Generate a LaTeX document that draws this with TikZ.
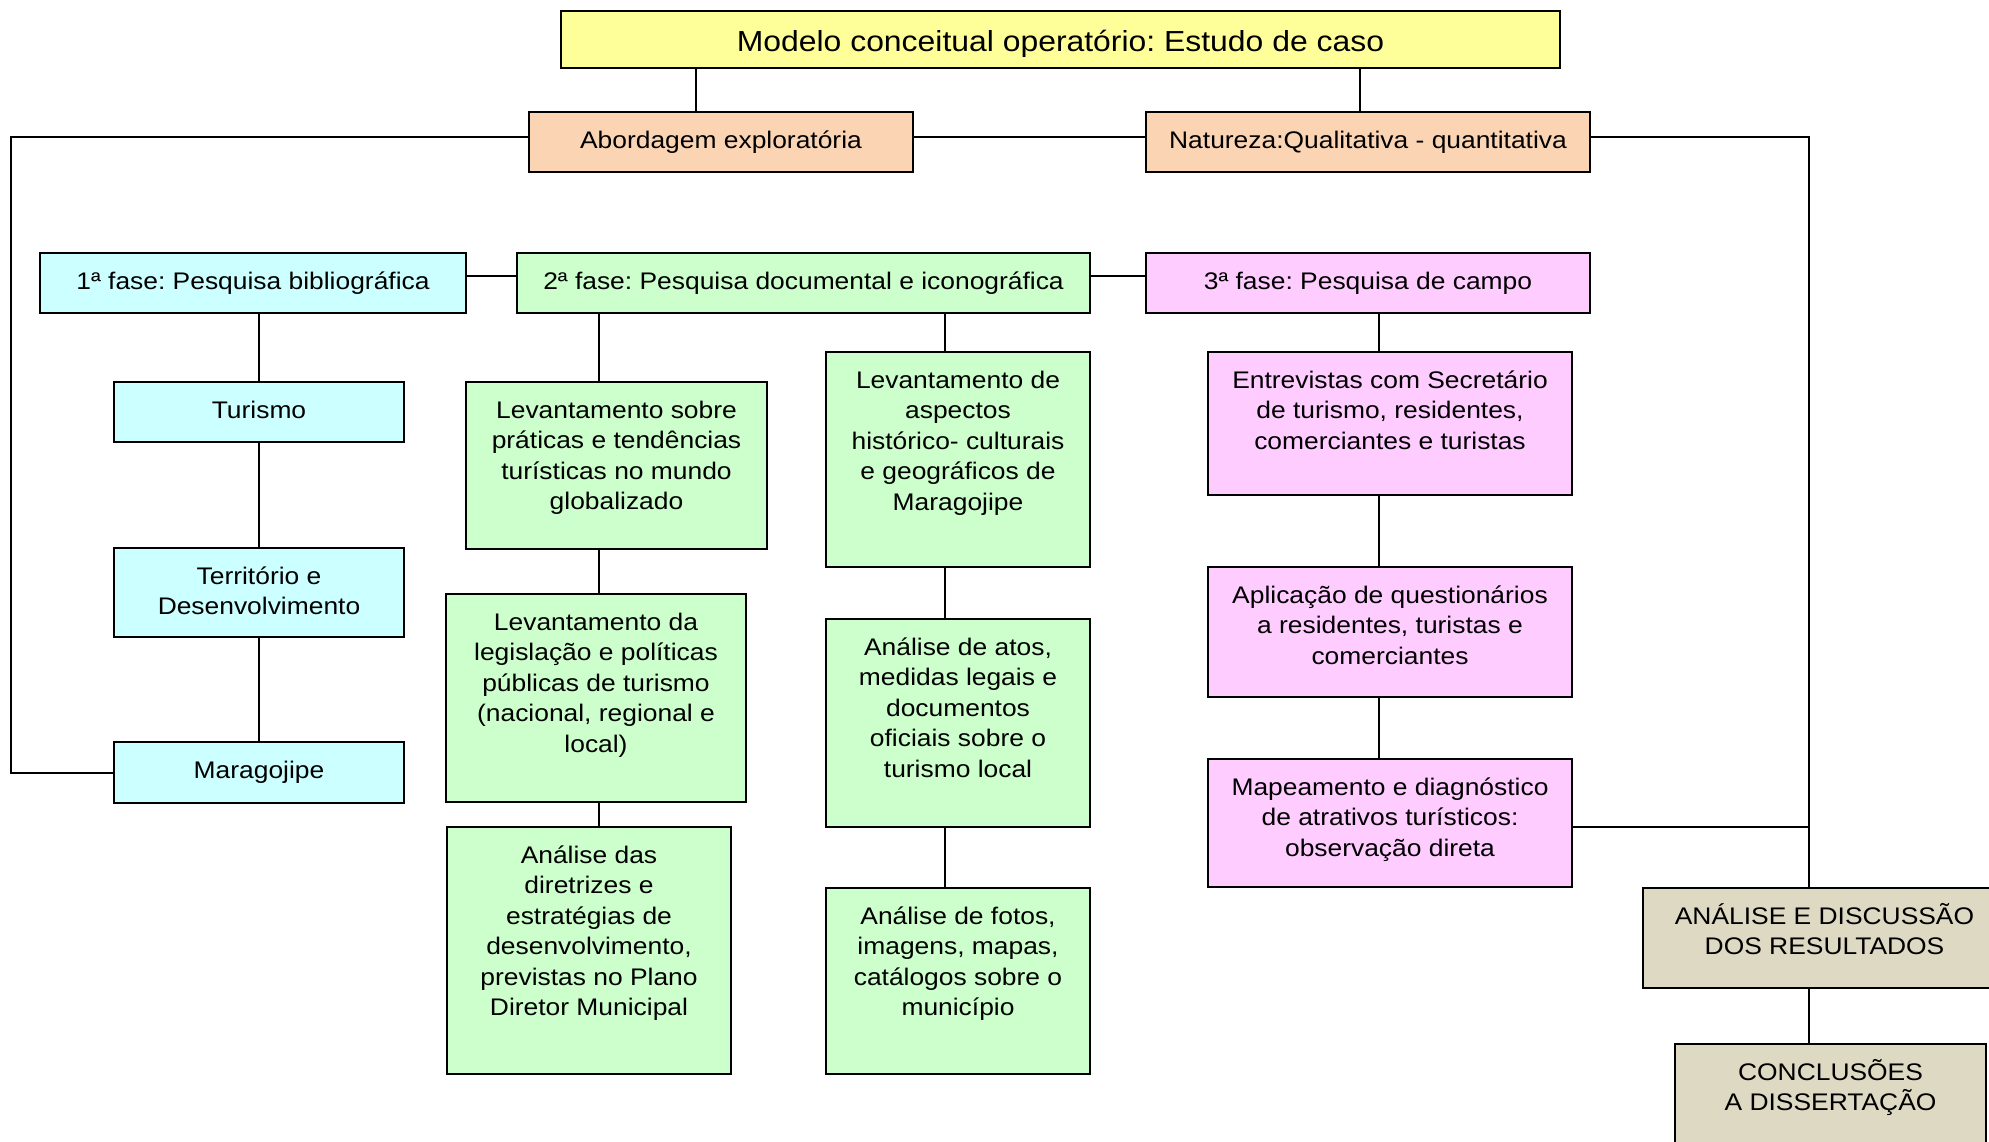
\documentclass[tikz,border=0pt]{standalone}
\usepackage{fontspec}
\setmainfont{Liberation Sans}[FakeStretch=1.1]
\definecolor{cyellow}{HTML}{FFFF99}
\definecolor{cpeach}{HTML}{FBD4B4}
\definecolor{ccyan}{HTML}{CCFFFF}
\definecolor{cgreen}{HTML}{CCFFCC}
\definecolor{cpink}{HTML}{FFCCFF}
\definecolor{cbeige}{HTML}{DDD9C3}
\newcommand\bxt[3]{\parbox[t][#2][t]{#1}{\frenchspacing\centering\rule{0pt}{36pt}#3}}
\begin{document}
\frenchspacing
\begin{tikzpicture}[x=1pt,y=-1pt,
  cell/.style={draw=black, rectangle, inner sep=0pt, outer sep=0pt, anchor=north west, line width=2.3pt,
    font=\fontsize{24}{30.5}\selectfont},
  conn/.style={draw=black, line width=2pt}]
\useasboundingbox (0,0) rectangle (1989,1141);
\clip (0,0) rectangle (1989,1141);

% top level
\node[cell, fill=cyellow, font=\fontsize{29}{34}\selectfont] (title) at (561,11)
  {\parbox[t][57pt][t]{999pt}{\frenchspacing\centering\rule{0pt}{40pt}Modelo conceitual operatório: Estudo de caso}};
\node[cell, fill=cpeach] (abord) at (529,112) {\bxt{384pt}{60pt}{Abordagem exploratória}};
\node[cell, fill=cpeach] (natur) at (1146,112) {\bxt{444pt}{60pt}{Natureza:Qualitativa - quantitativa}};

% phases
\node[cell, fill=ccyan] (f1) at (40,253) {\bxt{426pt}{60pt}{1ª fase: Pesquisa bibliográfica}};
\node[cell, fill=cgreen] (f2) at (517,253) {\bxt{573pt}{60pt}{2ª fase: Pesquisa documental e iconográfica}};
\node[cell, fill=cpink] (f3) at (1146,253) {\bxt{444pt}{60pt}{3ª fase: Pesquisa de campo}};

% column 1
\node[cell, fill=ccyan] (turismo) at (114,382) {\bxt{290pt}{60pt}{Turismo}};
\node[cell, fill=ccyan] (territ) at (114,548) {\bxt{290pt}{89pt}{Território e\\Desenvolvimento}};
\node[cell, fill=ccyan] (marag) at (114,742) {\bxt{290pt}{61pt}{Maragojipe}};

% column 2
\node[cell, fill=cgreen] (lev1) at (466,382) {\bxt{301pt}{167pt}{Levantamento sobre\\práticas e tendências\\turísticas no mundo\\globalizado}};
\node[cell, fill=cgreen] (lev2) at (446,594) {\bxt{300pt}{208pt}{Levantamento da\\legislação e políticas\\públicas de turismo\\(nacional, regional e\\local)}};
\node[cell, fill=cgreen] (anal1) at (447,827) {\bxt{284pt}{247pt}{Análise das\\diretrizes e\\estratégias de\\desenvolvimento,\\previstas no Plano\\Diretor Municipal}};

% column 3
\node[cell, fill=cgreen] (asp) at (826,352) {\bxt{264pt}{215pt}{Levantamento de\\aspectos\\histórico- culturais\\e geográficos de\\Maragojipe}};
\node[cell, fill=cgreen] (atos) at (826,619) {\bxt{264pt}{208pt}{Análise de atos,\\medidas legais e\\documentos\\oficiais sobre o\\turismo local}};
\node[cell, fill=cgreen] (fotos) at (826,888) {\bxt{264pt}{186pt}{Análise de fotos,\\imagens, mapas,\\catálogos sobre o\\município}};

% column 4
\node[cell, fill=cpink] (entr) at (1208,352) {\bxt{364pt}{143pt}{Entrevistas com Secretário\\de turismo, residentes,\\comerciantes e turistas}};
\node[cell, fill=cpink] (aplic) at (1208,567) {\bxt{364pt}{130pt}{Aplicação de questionários\\a residentes, turistas e\\comerciantes}};
\node[cell, fill=cpink] (mapa) at (1208,759) {\bxt{364pt}{128pt}{Mapeamento e diagnóstico\\de atrativos turísticos:\\observação direta}};

% results
\node[cell, fill=cbeige] (analise) at (1643,888) {\bxt{363pt}{100pt}{ANÁLISE E DISCUSSÃO\\DOS RESULTADOS}};
\node[cell, fill=cbeige] (concl) at (1675,1044) {\bxt{311pt}{110pt}{CONCLUSÕES\\A DISSERTAÇÃO}};

% connectors top
\coordinate (ta) at ([xshift=-25pt]abord.north);
\coordinate (tn) at ([xshift=-8pt]natur.north);
\draw[conn] (ta) -- (ta |- title.south);
\draw[conn] (tn) -- (tn |- title.south);
\draw[conn] ([yshift=5pt]abord.east) -- ([yshift=5pt]natur.west);
\draw[conn] ([yshift=5pt]abord.west) -- ++(-518,0) |- (marag.west);
\coordinate (rx) at ([xshift=-15.5pt]analise.north);
\draw[conn] ([yshift=5pt]natur.east) -| (rx);
\coordinate (me) at ([yshift=-4pt]mapa.east);
\draw[conn] (me) -- (me -| rx);
\draw[conn] (analise.south -| rx) -- (concl.north -| rx);

% phases links
\draw[conn] ([yshift=7pt]f1.east) -- ([yshift=7pt]f2.west);
\draw[conn] ([yshift=7pt]f2.east) -- ([yshift=7pt]f3.west);

% column 1
\draw[conn] (turismo.north |- f1.south) -- (turismo.north);
\draw[conn] (turismo.south) -- (territ.north);
\draw[conn] (territ.south) -- (marag.north);

% column 2
\coordinate (gx) at ([xshift=-17.5pt]lev1.north);
\draw[conn] (gx |- f2.south) -- (gx);
\draw[conn] (gx |- lev1.south) -- (gx |- lev2.north);
\draw[conn] (gx |- lev2.south) -- (gx |- anal1.north);

% column 3
\coordinate (ax) at ([xshift=-13pt]asp.north);
\draw[conn] (ax |- f2.south) -- (ax);
\draw[conn] (ax |- asp.south) -- (ax |- atos.north);
\draw[conn] (ax |- atos.south) -- (ax |- fotos.north);

% column 4
\coordinate (ex) at ([xshift=-11.5pt]entr.north);
\draw[conn] (ex |- f3.south) -- (ex);
\draw[conn] (ex |- entr.south) -- (ex |- aplic.north);
\draw[conn] (ex |- aplic.south) -- (ex |- mapa.north);
\end{tikzpicture}
\end{document}
